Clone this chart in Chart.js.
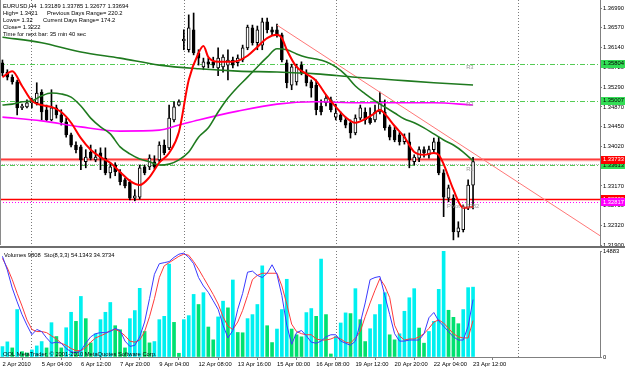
<!DOCTYPE html>
<html>
<head>
<meta charset="utf-8">
<script src="https://cdn.jsdelivr.net/npm/chart.js@4.4.0/dist/chart.umd.min.js"></script>
<style>
  body { margin: 0; background: #fff; }
  #wrap { position: relative; width: 625px; height: 370px; }
  #priceChart { position: absolute; left: 0; top: 0; }
  #lowerChart { position: absolute; left: 0; top: 248px; }
</style>
</head>
<body>
<div id="wrap">
  <canvas id="priceChart" width="625" height="248"></canvas>
  <canvas id="lowerChart" width="625" height="122"></canvas>
</div>
<script>
// EURUSD H4 candles, 2 Apr - 23 Apr 2010 ------------------------------------
const opens = [1.3582,1.3562,1.3551,1.3541,1.3485,1.3487,1.3496,1.3496,1.3519,1.3481,
  1.3459,1.3485,1.3470,1.3455,1.3427,1.3405,1.3401,1.3369,1.3390,1.3373,
  1.3388,1.3377,1.3345,1.3362,1.3347,1.3330,1.3326,1.3291,1.3293,1.3358,
  1.3358,1.3369,1.3373,1.3405,1.3399,1.3459,1.3491,1.3629,1.3610,1.3653,
  1.3603,1.3573,1.3584,1.3584,1.3571,1.3573,1.3577,1.3588,1.3582,1.3588,
  1.3614,1.3657,1.3625,1.3620,1.3670,1.3653,1.3653,1.3642,1.3582,1.3534,
  1.3541,1.3577,1.3560,1.3541,1.3534,1.3489,1.3496,1.3502,1.3465,1.3470,
  1.3459,1.3453,1.3431,1.3463,1.3476,1.3463,1.3459,1.3476,1.3476,1.3444,
  1.3437,1.3427,1.3412,1.3412,1.3369,1.3377,1.3395,1.3384,1.3395,1.3412,
  1.3345,1.3291,1.3291,1.3218,1.3223,1.3270,1.33189];
const highs = [1.3588,1.3567,1.3556,1.3545,1.3493,1.3502,1.3506,1.3539,1.3524,1.3491,
  1.3524,1.3491,1.3481,1.3463,1.3431,1.3412,1.3405,1.3395,1.3405,1.3395,
  1.3399,1.3399,1.3367,1.3367,1.3352,1.3334,1.3330,1.3309,1.3362,1.3362,
  1.3384,1.3382,1.3412,1.3416,1.3491,1.3498,1.3502,1.3653,1.3685,1.3689,
  1.3610,1.3592,1.3592,1.3594,1.3614,1.3599,1.3610,1.3594,1.3599,1.3620,
  1.3663,1.3663,1.3661,1.3678,1.3678,1.3659,1.3665,1.3646,1.3588,1.3579,
  1.3579,1.3584,1.3567,1.3545,1.3545,1.3502,1.3513,1.3508,1.3493,1.3476,
  1.3465,1.3459,1.3470,1.3491,1.3485,1.3485,1.3491,1.3519,1.3502,1.3448,
  1.3444,1.3433,1.3429,1.3431,1.3384,1.3401,1.3401,1.3403,1.3420,1.3422,
  1.3352,1.3319,1.3298,1.3240,1.3276,1.3330,1.33785];
const lows = [1.3554,1.3545,1.3536,1.3470,1.3481,1.3485,1.3485,1.3491,1.3459,1.3457,
  1.3457,1.3463,1.3448,1.3422,1.3401,1.3388,1.3352,1.3356,1.3373,1.3369,
  1.3352,1.3341,1.3334,1.3339,1.3319,1.3313,1.3287,1.3285,1.3289,1.3341,
  1.3352,1.3354,1.3369,1.3384,1.3395,1.3455,1.3489,1.3610,1.3605,1.3599,
  1.3577,1.3567,1.3571,1.3571,1.3554,1.3562,1.3545,1.3571,1.3575,1.3584,
  1.3610,1.3620,1.3610,1.3610,1.3646,1.3642,1.3637,1.3584,1.3528,1.3524,
  1.3534,1.3556,1.3532,1.3508,1.3470,1.3470,1.3489,1.3476,1.3459,1.3455,
  1.3442,1.3420,1.3427,1.3459,1.3450,1.3450,1.3455,1.3472,1.3437,1.3416,
  1.3412,1.3405,1.3407,1.3356,1.3362,1.3369,1.3379,1.3377,1.3388,1.3341,
  1.3251,1.3283,1.3201,1.3207,1.3218,1.3266,1.32677];
const closes = [1.3560,1.3551,1.3541,1.3485,1.3489,1.3496,1.3498,1.3517,1.3476,1.3459,
  1.3485,1.3470,1.3455,1.3427,1.3405,1.3395,1.3373,1.3379,1.3377,1.3379,
  1.3377,1.3345,1.3358,1.3347,1.3326,1.3317,1.3291,1.3296,1.3356,1.3345,
  1.3377,1.3358,1.3405,1.3388,1.3463,1.3487,1.3498,1.3633,1.3657,1.3603,
  1.3592,1.3584,1.3579,1.3577,1.3592,1.3594,1.3588,1.3577,1.3592,1.3614,
  1.3659,1.3625,1.3653,1.3670,1.3653,1.3648,1.3642,1.3588,1.3539,1.3573,
  1.3573,1.3560,1.3539,1.3528,1.3481,1.3476,1.3506,1.3481,1.3474,1.3459,
  1.3448,1.3431,1.3463,1.3485,1.3459,1.3453,1.3476,1.3498,1.3442,1.3422,
  1.3416,1.3412,1.3422,1.3373,1.3379,1.3395,1.3388,1.3395,1.3412,1.3345,
  1.3293,1.3313,1.3218,1.3227,1.3272,1.3319,1.33694];

// moving averages, read at the listed bars
const redIdx = [0,2,4,6,8,10,12,14,16,18,20,22,24,26,28,30,32,34,36,38,40,41,42,44,46,48,50,52,54,56,
  57,58,60,62,64,66,68,70,72,74,76,77,78,80,82,84,86,88,89,90,92,94,96];
const redMA = [1.3551,1.3564,1.3532,1.3500,1.3491,1.3487,1.3476,1.3453,1.3420,1.3395,
  1.3379,1.3367,1.3347,1.3328,1.3319,1.3336,1.3367,1.3388,1.3433,1.3545,
  1.3603,1.3618,1.3594,1.3584,1.3584,1.3586,1.3597,1.3616,1.3635,1.3642,
  1.3635,1.3610,1.3573,1.3558,1.3543,1.3513,1.3487,1.3465,1.3453,1.3461,
  1.3474,1.3481,1.3472,1.3446,1.3422,1.3390,1.3384,1.3388,1.3384,1.3364,
  1.3309,1.3270,1.3272];
const midIdx = [0,2,4,6,8,10,12,14,16,18,20,22,24,26,28,30,32,34,36,38,40,42,44,46,48,
  50,52,54,56,58,60,62,64,66,68,70,72,74,76,78,80,82,84,86,88,90,92,94,96];
const midMA = [1.3491,1.3493,1.3498,1.3500,1.3511,1.3517,1.3515,1.3508,1.3489,1.3463,
  1.3444,1.3429,1.3401,1.3386,1.3375,1.3369,1.3362,1.3364,1.3373,1.3390,
  1.3422,1.3442,1.3476,1.3506,1.3530,1.3551,1.3573,1.3594,1.3612,1.3610,
  1.3601,1.3594,1.3590,1.3584,1.3573,1.3556,1.3532,1.3515,1.3500,1.3487,
  1.3474,1.3461,1.3453,1.3442,1.3429,1.3416,1.3405,1.3390,1.3371];
const longIdx = [0,8,16,24,32,40,48,56,64,72,80,88,96];
const longMA = [1.3637,1.3625,1.3605,1.3592,1.3577,1.3569,1.3564,1.3562,1.3558,1.3551,1.3545,1.3539,1.3534];
const magIdx = [0,8,16,24,32,36,40,48,56,64,72,80,88,96];
const magMA = [1.3465,1.3457,1.3444,1.3435,1.3437,1.3448,1.3459,1.3478,1.3493,1.3498,1.3496,1.3496,1.3496,1.3491];

// objects on the chart
const trendX = [56, 121.9];
const trendY = [1.3663, 1.3210];
const pivotNames = ['R3', 'R2', 'R1'];
const pivotLevels = [1.35804, 1.35007, 1.33613];
const pivotPrice = 1.32817;
const resistLevel = 1.33733;
const supportLevel = 1.32880;
const bidLevel = 1.33650;
const separatorBars = [5.8, 37, 68, 105.2];

// axes
const priceTicks = [1.3699,1.3657,1.3614,1.3572,1.3529,1.3487,1.3445,1.3402,1.3360,1.3317,1.3275,1.3232,1.3190];
const xLabelBars = [0,8,16,24,32,40,48,56,64,72,80,88,96];
const xLabels = ['2 Apr 2010','5 Apr 04:00','6 Apr 12:00','7 Apr 20:00','9 Apr 04:00','12 Apr 08:00',
  '13 Apr 16:00','15 Apr 00:00','16 Apr 08:00','19 Apr 12:00','20 Apr 20:00','22 Apr 04:00','23 Apr 12:00'];

// lower window: Volumes + Stochastic(8,3,3)
const volumes = [1460,2126,1276,6662,751,567,992,1559,2169,1276,
  4819,2877,1276,4110,6279,5003,8504,5386,1984,3260,
  5244,6279,7654,4394,3827,1276,5386,6520,9638,3586,
  1984,2169,5244,5712,13040,4862,524,5244,5811,8788,
  7370,9029,4210,2410,5627,7838,6903,10815,3444,3402,
  5386,5953,7370,12799,4394,2027,3926,6662,10914,3926,
  3118,2835,6237,6804,5712,13749,5953,425,2877,4777,
  6194,6095,9596,5244,2169,3969,5953,7370,9029,3118,
  2410,3260,6421,8320,9596,4068,1942,3586,5003,9497,
  14883,6563,5570,4677,6662,9738,9808];
const volMax = 14883;
const stochMain = [95,82,65,52,40,30,21,26,24,18,
  13,14,13,8,5,4,6,13,19,22,
  23,23,24,27,25,15,10,11,19,33,
  55,78,88,89,90,94,97,98,94,88,
  75,67,61,53,45,30,18,25,45,60,
  80,81,77,75,79,87,78,58,30,12,
  23,25,20,14,13,15,19,21,21,15,
  13,11,15,32,51,73,75,76,58,40,
  22,15,15,16,16,16,22,37,42,34,
  29,24,19,16,16,29,54.1343];
const stochSignal = [93,84,73,60,48,35,26,24,24,23,
  20,17,13,11,8,6,6,9,14,18,
  20,22,25,26,24,20,15,14,16,24,
  38,55,75,86,89,92,95,97,96,90,
  83,75,67,59,50,38,29,26,33,44,
  58,73,77,79,79,79,79,67,50,31,
  24,22,21,21,17,16,16,17,19,17,
  14,13,18,24,38,51,63,74,67,56,
  30,20,16,17,17,19,22,27,33,35,
  32,27,22,19,18,18,34.3734];

// ---------------------------------------------------------------------------
const FONT = '"Liberation Sans", Arial, sans-serif';
const SMALL = 5.8;
const xMin = -0.5, xMax = 121.9;
const last = closes.length - 1;

function pts(idx, vals) {
    return idx.map((b, k) => ({ x: b, y: vals[k] }));
}

function text(ctx, s, x, y, color, align) {
    ctx.fillStyle = color || '#000';
    ctx.textAlign = align || 'left';
    ctx.textBaseline = 'middle';
    ctx.fillText(s, x, y);
}

function hline(ctx, area, y, color, width, dash) {
    ctx.beginPath();
    ctx.strokeStyle = color;
    ctx.lineWidth = width;
    ctx.setLineDash(dash || []);
    ctx.moveTo(area.left, y);
    ctx.lineTo(area.right, y);
    ctx.stroke();
}

function separators(chart) {
    const { ctx, chartArea: a, scales: { x } } = chart;
    ctx.save();
    ctx.strokeStyle = '#7a7a7a';
    ctx.lineWidth = 1;
    ctx.setLineDash([1, 2]);
    separatorBars.forEach(b => {
        const px = Math.round(x.getPixelForValue(b)) + 0.5;
        ctx.beginPath();
        ctx.moveTo(px, a.top);
        ctx.lineTo(px, a.bottom);
        ctx.stroke();
    });
    ctx.restore();
}

// price window overlays -------------------------------------------------------
const priceOverlay = {
    id: 'priceOverlay',
    beforeDatasetsDraw(chart) {
        const { ctx, chartArea: a, scales: { y } } = chart;
        separators(chart);
        ctx.save();
        pivotLevels.forEach(p => hline(ctx, a, Math.round(y.getPixelForValue(p)) + 0.5, '#55cc55', 1, [5, 2, 1, 2]));
        hline(ctx, a, Math.round(y.getPixelForValue(pivotPrice)) + 0.5, '#ff00ff', 1, [1, 2]);
        hline(ctx, a, Math.round(y.getPixelForValue(bidLevel)) + 0.5, '#b0b0b0', 1, [1, 1]);
        hline(ctx, a, y.getPixelForValue(resistLevel), '#ff9a9a', 3);
        hline(ctx, a, y.getPixelForValue(resistLevel) - 0.5, '#ff2020', 1);
        hline(ctx, a, y.getPixelForValue(supportLevel), '#ff0000', 1.6);
        ctx.restore();
    },
    afterDraw(chart) {
        const { ctx, chartArea: a, scales: { x, y } } = chart;
        ctx.save();
        ctx.font = SMALL + 'px ' + FONT;

        // object labels
        pivotNames.forEach((n, k) => text(ctx, n, x.getPixelForValue(94.6), y.getPixelForValue(pivotLevels[k]) + 4, '#9a9a9a'));
        text(ctx, 'Pivot ' + pivotPrice.toFixed(4), x.getPixelForValue(90.7), y.getPixelForValue(pivotPrice) + 4, '#9a9a9a');

        // price labels on the axis
        const boxes = [
            [pivotLevels[0], '#33dd55', '#000'],
            [pivotLevels[1], '#33dd55', '#000'],
            [pivotLevels[2], '#33dd55', '#000'],
            [resistLevel, '#ff0000', '#fff'],
            [supportLevel, '#ff0000', '#fff'],
            [pivotPrice, '#ff00ff', '#fff']
        ];
        boxes.forEach(([p, bg, fg]) => {
            const py = y.getPixelForValue(p);
            ctx.fillStyle = bg;
            ctx.fillRect(a.right + 1, Math.round(py) - 4, 24, 8);
            text(ctx, p.toFixed(5), a.right + 3, py, fg);
        });

        // info text
        const t = [
            ['EURUSD,H4  ' + [opens[last], highs[last], lows[last], closes[last]].map(v => v.toFixed(5)).join(' '), 3, 6],
            ['High= 1.3421', 3, 13], ['Previous Days Range= 220.2', 47, 13],
            ['Lows= 1.32', 3, 20], ['Current Days Range= 174.2', 43, 20],
            ['Close= 1.3222', 3, 27],
            ['Time for next bar: 35 min 40 sec', 3, 34.5]
        ];
        t.forEach(([s, tx, ty]) => text(ctx, s, tx, ty, '#000'));

        // frame
        ctx.fillStyle = '#8a8a8a';
        ctx.fillRect(0, 0, 1, a.bottom);
        ctx.fillStyle = '#6e6e6e';
        ctx.fillRect(0, 246, 625, 2);
        ctx.restore();
    }
};

const priceChart = new Chart(document.getElementById('priceChart'), {
    type: 'bar',
    data: {
        datasets: [
            { type: 'line', data: pts(redIdx, redMA), borderColor: '#ff0000', borderWidth: 2, pointRadius: 0, cubicInterpolationMode: 'monotone', order: 1 },
            { type: 'line', data: pts(midIdx, midMA), borderColor: '#1f7a1f', borderWidth: 1.6, pointRadius: 0, cubicInterpolationMode: 'monotone', order: 2 },
            { type: 'line', data: pts(longIdx, longMA), borderColor: '#1f7a1f', borderWidth: 1.6, pointRadius: 0, cubicInterpolationMode: 'monotone', order: 3 },
            { type: 'line', data: pts(magIdx, magMA), borderColor: '#ff00ff', borderWidth: 1.6, pointRadius: 0, cubicInterpolationMode: 'monotone', order: 4 },
            { type: 'line', data: pts(trendX, trendY), borderColor: '#ff7777', borderWidth: 1, pointRadius: 0, order: 5 },
            {
                data: opens.map((o, i) => ({ x: i, y: [o, closes[i]] })),
                backgroundColor: opens.map((o, i) => closes[i] >= o ? '#ffffff' : '#000000'),
                borderColor: '#000', borderWidth: 1, borderSkipped: false,
                barThickness: 3, minBarLength: 1, grouped: false, order: 6
            },
            {
                data: lows.map((l, i) => ({ x: i, y: [l, highs[i]] })),
                backgroundColor: '#000', barThickness: 1, grouped: false, order: 7
            }
        ]
    },
    options: {
        responsive: false,
        animation: false,
        events: [],
        layout: { padding: { left: 0, right: 0, top: 0, bottom: 3 } },
        plugins: { legend: { display: false }, tooltip: { enabled: false } },
        scales: {
            x: { type: 'linear', min: xMin, max: xMax, offset: false, display: false },
            y: {
                position: 'right', min: 1.3190, max: 1.3717,
                afterBuildTicks: s => { s.ticks = priceTicks.map(v => ({ value: v })); },
                afterFit: s => { s.width = 25; s.paddingTop = 0; s.paddingBottom = 0; },
                ticks: { font: { family: FONT, size: SMALL }, color: '#000', padding: 1, autoSkip: false, callback: v => v.toFixed(5) },
                grid: { drawOnChartArea: false, tickLength: 2, color: '#808080' },
                border: { color: '#808080' }
            }
        }
    },
    plugins: [priceOverlay]
});

// lower window ----------------------------------------------------------------
const lowerOverlay = {
    id: 'lowerOverlay',
    beforeDatasetsDraw(chart) {
        separators(chart);
    },
    afterDraw(chart) {
        const { ctx } = chart;
        ctx.save();
        ctx.font = SMALL + 'px ' + FONT;
        text(ctx, 'Volumes ' + volumes[last] + '  Sto(8,3,3) ' + stochMain[last].toFixed(4) + ' ' + stochSignal[last].toFixed(4), 4, 7);
        text(ctx, 'OOL MetaTrader, \u00a9 2001-2010 MetaQuotes Software Corp.', 3, 106.5);
        ctx.restore();
    }
};

const lowerChart = new Chart(document.getElementById('lowerChart'), {
    type: 'bar',
    data: {
        datasets: [
            { type: 'line', data: stochMain.map((v, i) => ({ x: i, y: v })), yAxisID: 'ys', borderColor: '#3a3aff', borderWidth: 1, pointRadius: 0, order: 1 },
            { type: 'line', data: stochSignal.map((v, i) => ({ x: i, y: v })), yAxisID: 'ys', borderColor: '#ff3a3a', borderWidth: 1, pointRadius: 0, order: 2 },
            {
                data: volumes.map((v, i) => ({ x: i, y: v })), yAxisID: 'yv',
                backgroundColor: volumes.map((v, i) => (i > 0 && v < volumes[i - 1]) ? '#00e070' : '#00f0f0'),
                barThickness: 3, grouped: false, order: 3
            }
        ]
    },
    options: {
        responsive: false,
        animation: false,
        events: [],
        layout: { padding: { left: 0, right: 0, top: 3, bottom: 0 } },
        plugins: { legend: { display: false }, tooltip: { enabled: false } },
        scales: {
            x: {
                type: 'linear', min: xMin, max: xMax, offset: false,
                afterBuildTicks: s => { s.ticks = xLabelBars.map(v => ({ value: v })); },
                afterFit: s => { s.height = 13; s.paddingLeft = 0; s.paddingRight = 0; },
                ticks: { font: { family: FONT, size: SMALL }, color: '#000', align: 'start', maxRotation: 0, autoSkip: false, padding: 1,
                    callback: (v, i) => xLabels[i] },
                grid: { drawOnChartArea: false, tickLength: 3, color: '#808080' },
                border: { color: '#808080' }
            },
            yv: {
                position: 'right', min: 0, max: volMax,
                afterBuildTicks: s => { s.ticks = [{ value: 0 }, { value: volMax }]; },
                afterFit: s => { s.width = 25; s.paddingTop = 0; s.paddingBottom = 0; },
                ticks: { font: { family: FONT, size: SMALL }, color: '#000', padding: 1, autoSkip: false, callback: v => String(v) },
                grid: { drawOnChartArea: false, tickLength: 2, color: '#808080' },
                border: { color: '#808080' }
            },
            ys: { display: false, min: 0, max: 100 }
        }
    },
    plugins: [lowerOverlay]
});
</script>
</body>
</html>
